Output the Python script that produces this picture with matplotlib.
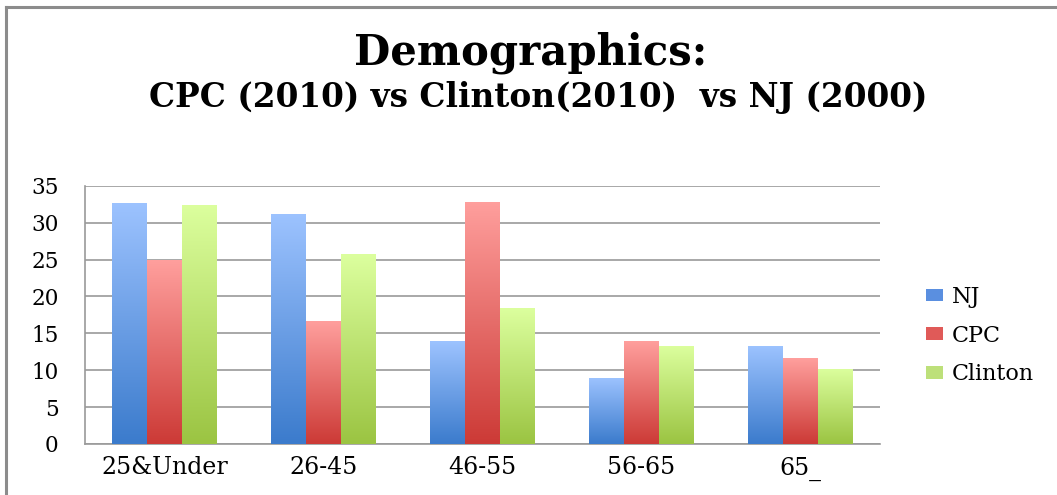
import numpy as np
import matplotlib
matplotlib.use('Agg')
import matplotlib.pyplot as plt
from matplotlib.colors import LinearSegmentedColormap
from matplotlib.lines import Line2D
from matplotlib.patches import Patch

categories = ['25&Under', '26-45', '46-55', '56-65', '65_']
series_names = ['NJ', 'CPC', 'Clinton']
nj = [32.7, 31.2, 13.9, 9.0, 13.3]
cpc = [24.9, 16.6, 32.8, 13.9, 11.6]
clinton = [32.4, 25.7, 18.4, 13.3, 10.2]
y_ticks = [0, 5, 10, 15, 20, 25, 30, 35]

# (top colour, bottom colour) for each series gradient
grad_colors = [('#9dc3ff', '#3b7bcc'),
               ('#ff9f9d', '#cc3a36'),
               ('#dcff9e', '#9bc442')]
legend_colors = ['#5a8fe0', '#e05a58', '#bde07a']

plt.rcParams['font.family'] = ['DejaVu Serif']

W, H = 1057, 495
fig = plt.figure(figsize=(W / 100, H / 100), dpi=100)
ax = fig.add_axes([85 / W, 1 - 444 / H, 795 / W, (444 - 185.7) / H])

x = np.arange(len(categories))
width = 0.22
gradient = np.linspace(1, 0, 256).reshape(-1, 1)

for i, (vals, (top, bottom)) in enumerate(zip([nj, cpc, clinton], grad_colors)):
    bars = ax.bar(x + (i - 1) * width, vals, width, color=bottom,
                  edgecolor='none', zorder=2)
    cmap = LinearSegmentedColormap.from_list('g%d' % i, [bottom, top])
    for b in bars:
        x0, y0 = b.get_x(), b.get_y()
        im = ax.imshow(gradient, cmap=cmap, aspect='auto', zorder=3,
                       extent=(x0, x0 + b.get_width(), y0, y0 + b.get_height()),
                       origin='upper', vmin=0, vmax=1)
        im.set_clip_path(b)

ax.set_xlim(-0.5, len(categories) - 0.5)
ax.set_ylim(0, 35)
ax.set_yticks(y_ticks)
ax.set_xticks(x)
ax.set_xticklabels(categories, fontsize=17)
ax.tick_params(axis='y', length=0, labelsize=15.5, pad=19)
ax.tick_params(axis='x', length=0, pad=9)
ax.yaxis.grid(True, color='#9a9a9a', linewidth=1.2, zorder=0)
ax.set_axisbelow(True)

for side in ['top', 'right']:
    ax.spines[side].set_visible(False)
for side in ['left', 'bottom']:
    ax.spines[side].set_color('#9a9a9a')
    ax.spines[side].set_linewidth(1.2)

handles = [Patch(facecolor=c, edgecolor='none') for c in legend_colors]
fig.legend(handles, series_names, loc='upper left',
           bbox_to_anchor=(906 / W, 1 - 266 / H), frameon=False,
           fontsize=16, handlelength=0.75, handleheight=0.5,
           handletextpad=0.4, labelspacing=0.75)

# titles: scale the font so each line spans its target width
renderer = fig.canvas.get_renderer()


def fit_text(s, cx, cy, target_w, size):
    t = fig.text(cx / W, 1 - cy / H, s, ha='center', va='center',
                 fontsize=size, fontweight='bold')
    w = t.get_window_extent(renderer).width
    t.set_fontsize(size * target_w / w)
    return t


fit_text('Demographics:', 531, 53, 353, 30)
fit_text('CPC (2010) vs Clinton(2010)  vs NJ (2000)', 538, 97, 780, 18)

# outer chart frame (left and top edges)
fig.add_artist(Line2D([6 / W, 6 / W], [0, 1 - 7 / H],
                      color='#8c8c8c', linewidth=2.2))
fig.add_artist(Line2D([6 / W, 1], [1 - 7 / H, 1 - 7 / H],
                      color='#8c8c8c', linewidth=2.2))

fig.savefig('out.png', dpi=100)
